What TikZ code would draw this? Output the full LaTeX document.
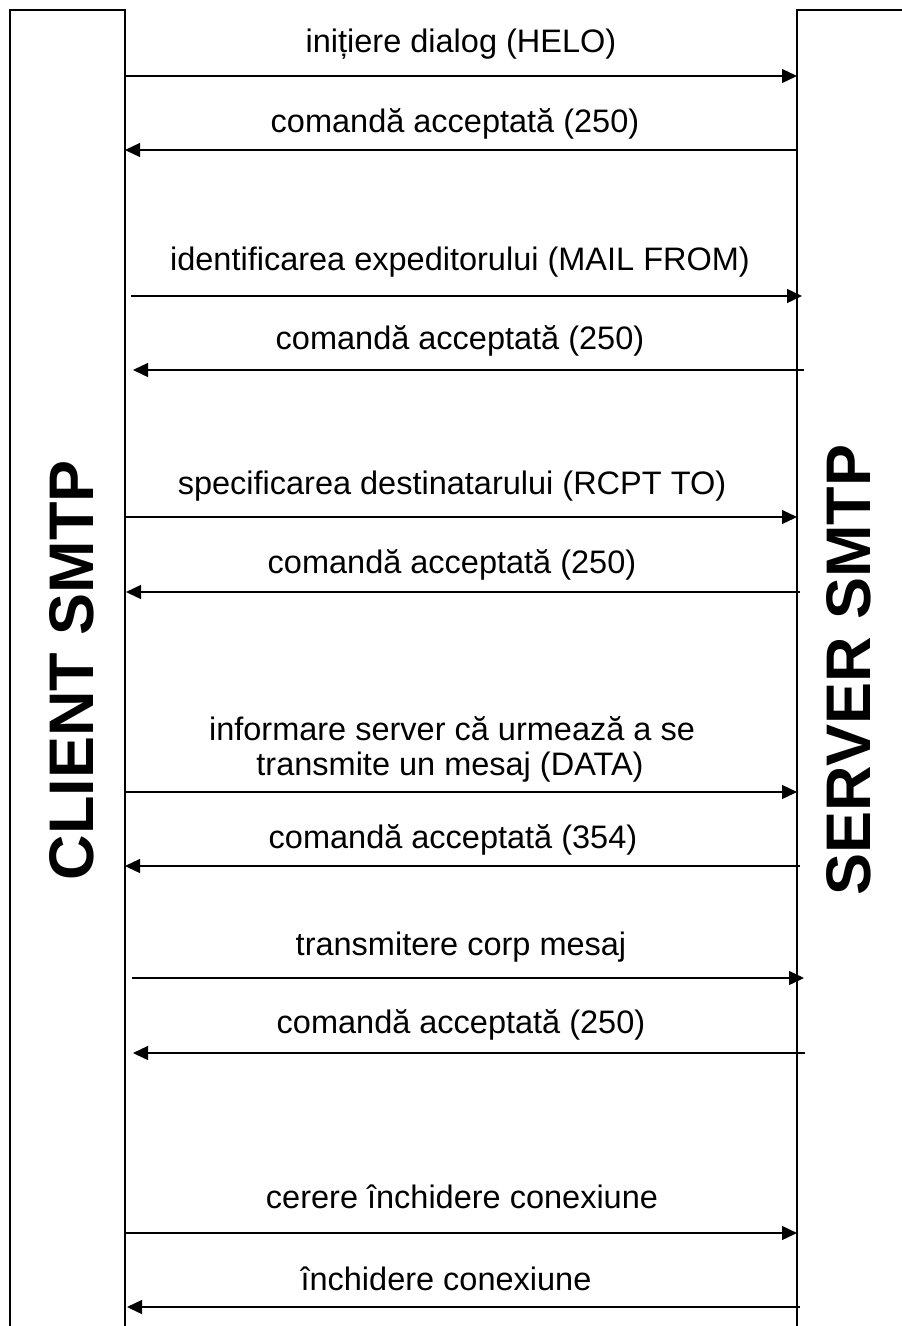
\documentclass[tikz,border=0pt]{standalone}
\usepackage{fontspec}
\setmainfont{Liberation Sans}
\usetikzlibrary{arrows.meta}

\tikzset{
  frame/.style={line width=1.6pt, line cap=rect},
  msg/.style={line width=1.3pt, -{Triangle[length=15pt,width=14pt]}},
  lbl/.style={anchor=base, inner sep=0pt, font=\fontsize{32.5}{36}\selectfont, align=center},
  side/.style={rotate=90, inner sep=0pt, font=\fontsize{63}{70}\selectfont\bfseries}
}

\begin{document}
\begin{tikzpicture}[x=1pt,y=-1pt]
  \useasboundingbox (0,0) rectangle (902,1326);

  % client and server columns (open at the bottom)
  \draw[frame] (10,1326) -- (10,10) -- (125,10) -- (125,1326);
  \draw[frame] (797,1326) -- (797,10) -- (902,10);

  \node[side] (client) at (72,670) {CLIENT SMTP};
  \node[side] (server) at (849,670) {SERVER SMTP};

  % message end points
  \coordinate (c1) at (125,76);   \coordinate (s1) at (797,76);
  \coordinate (s2) at (797,150);  \coordinate (c2) at (125,150);
  \coordinate (c3) at (131,296);  \coordinate (s3) at (802,296);
  \coordinate (s4) at (804,370);  \coordinate (c4) at (133,370);
  \coordinate (c5) at (125,517);  \coordinate (s5) at (797,517);
  \coordinate (s6) at (800,592);  \coordinate (c6) at (126,592);
  \coordinate (c7) at (125,792);  \coordinate (s7) at (797,792);
  \coordinate (s8) at (800,866);  \coordinate (c8) at (125,866);
  \coordinate (c9) at (132,978);  \coordinate (s9) at (804,978);
  \coordinate (s10) at (805,1053); \coordinate (c10) at (133,1053);
  \coordinate (c11) at (125,1233); \coordinate (s11) at (797,1233);
  \coordinate (s12) at (800,1307); \coordinate (c12) at (127,1307);

  % messages
  \draw[msg] (c1) -- (s1);
  \draw[msg] (s2) -- (c2);
  \draw[msg] (c3) -- (s3);
  \draw[msg] (s4) -- (c4);
  \draw[msg] (c5) -- (s5);
  \draw[msg] (s6) -- (c6);
  \draw[msg] (c7) -- (s7);
  \draw[msg] (s8) -- (c8);
  \draw[msg] (c9) -- (s9);
  \draw[msg] (s10) -- (c10);
  \draw[msg] (c11) -- (s11);
  \draw[msg] (s12) -- (c12);

  % labels
  \node[lbl] (l1) at (461,52) {inițiere dialog (HELO)};
  \node[lbl] (l2) at (455,132) {comandă acceptată (250)};
  \node[lbl] (l3) at (460,270) {identificarea expeditorului (MAIL FROM)};
  \node[lbl] (l4) at (460,349) {comandă acceptată (250)};
  \node[lbl] (l5) at (452,494) {specificarea destinatarului (RCPT TO)};
  \node[lbl] (l6) at (452,573) {comandă acceptată (250)};
  \node[lbl] (l7a) at (452,740) {informare server că urmează a se};
  \node[lbl] (l7b) at (450,775) {transmite un mesaj (DATA)};
  \node[lbl] (l8) at (453,848) {comandă acceptată (354)};
  \node[lbl] (l9) at (461,955) {transmitere corp mesaj};
  \node[lbl] (l10) at (461,1033) {comandă acceptată (250)};
  \node[lbl] (l11) at (462,1208) {cerere închidere conexiune};
  \node[lbl] (l12) at (446,1290) {închidere conexiune};
\end{tikzpicture}
\end{document}
